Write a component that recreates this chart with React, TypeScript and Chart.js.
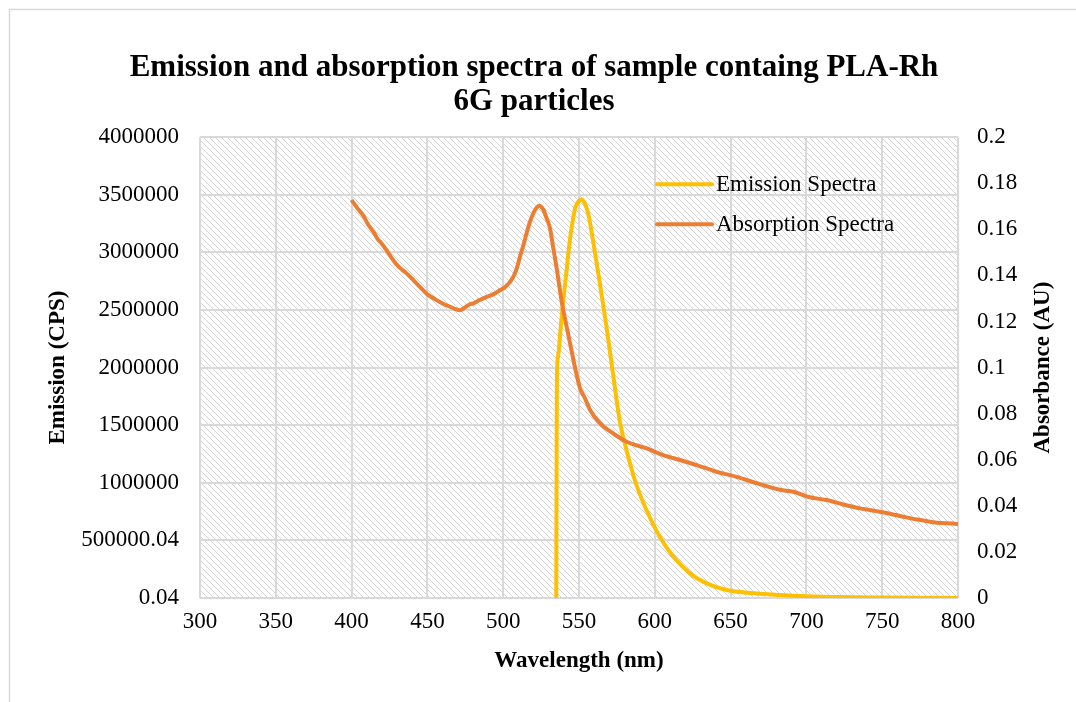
import React, { useEffect, useRef } from "react";
import { Chart, registerables } from "chart.js";

Chart.register(...registerables);

const chartTitle = ["Emission and absorption spectra of sample containg PLA-Rh", "6G particles"];
const xTitle = "Wavelength (nm)";
const leftTitle = "Emission (CPS)";
const rightTitle = "Absorbance (AU)";

const xTickValues = [300, 350, 400, 450, 500, 550, 600, 650, 700, 750, 800];
const leftTickValues = [0.04, 500000.04, 1000000.04, 1500000.04, 2000000.04, 2500000.04, 3000000.04, 3500000.04, 4000000.04];
const leftTickLabels = ["0.04", "500000.04", "1000000", "1500000", "2000000", "2500000", "3000000", "3500000", "4000000"];
const rightTickValues = [0, 0.02, 0.04, 0.06, 0.08, 0.1, 0.12, 0.14, 0.16, 0.18, 0.2];
const rightTickLabels = ["0", "0.02", "0.04", "0.06", "0.08", "0.1", "0.12", "0.14", "0.16", "0.18", "0.2"];

const emissionLabel = "Emission Spectra";
const emissionWavelengths = [
  535.0, 535.4, 536.2, 537.5, 539.0, 540.8, 542.5, 544.1, 545.8, 547.4, 549.5, 551.8, 554.0, 556.2,
  559.4, 563.9, 568.3, 572.6, 577.0, 581.4, 586.9, 594.6, 603.4, 612.2, 623.2, 634.2, 647.4, 665.0,
  682.6, 700.0, 720.0, 750.0, 780.0, 800.0,
];
const emissionValues = [
  0, 1900000, 2100000, 2280000, 2500000, 2720000, 2930000, 3120000, 3270000, 3380000, 3440000, 3460000, 3420000, 3330000,
  3090000, 2720000, 2340000, 1930000, 1530000, 1280000, 1020000, 760000, 530000, 360000, 214000, 127000, 69000, 41000,
  26000, 15000, 8000, 4000, 2000, 1000,
];

const absorptionLabel = "Absorption Spectra";
const absorptionWavelengths = [
  400, 404, 407.7, 411, 414.3, 417, 419.8, 423, 427.5, 431, 436.3, 440, 445.1, 450, 456.1, 460, 464.9, 468,
  471.5, 475, 478, 480.3, 484, 489.1, 494, 497.9, 501, 504.5, 507, 508.9, 511, 513.3, 515.5, 517.7, 520, 522,
  523.8, 525, 526.5, 528.7, 530.9, 533, 535.3, 538.6, 543, 548.5, 550.7, 554, 557.3, 563.9, 572.6, 581.5,
  594.7, 605.6, 616.6, 627.6, 640.8, 654, 667.2, 682.6, 691.4, 702.4, 713.4, 724.3, 735.4, 748.5, 761.7,
  772.8, 786, 799.2, 800,
];
const absorptionValues = [
  0.1727, 0.169, 0.166, 0.162, 0.159, 0.156, 0.1539, 0.151, 0.1466, 0.1438, 0.1409, 0.1385, 0.135, 0.1318, 0.1293, 0.1278, 0.1264, 0.1255,
  0.1249, 0.1262, 0.1275, 0.1279, 0.1292, 0.1307, 0.132, 0.1336, 0.1348, 0.1372, 0.1398, 0.143, 0.148, 0.1531, 0.1585, 0.1633, 0.1672, 0.1694,
  0.1702, 0.1698, 0.1685, 0.1647, 0.1604, 0.152, 0.143, 0.1286, 0.1141, 0.0967, 0.091, 0.0866, 0.0816, 0.0758, 0.0714, 0.0678,
  0.0649, 0.062, 0.0599, 0.0577, 0.0548, 0.0526, 0.0498, 0.047, 0.0461, 0.0437, 0.0425, 0.0406, 0.0389, 0.0374, 0.0356,
  0.0341, 0.0327, 0.0321, 0.032,
];

const FONT = "'Liberation Serif', 'Times New Roman', serif";
const GRID = "#d9d9d9";

const backgroundPlugin = {
  id: "excelBackground",
  beforeDraw(chart: any) {
    const { ctx, chartArea: a, width, height } = chart;
    ctx.save();
    ctx.fillStyle = "#ffffff";
    ctx.fillRect(0, 0, width, height);
    ctx.strokeStyle = GRID;
    ctx.lineWidth = 1.5;
    ctx.strokeRect(9.5, 9.5, width + 40, height + 40);
    const n = 6;
    const tile = document.createElement("canvas");
    tile.width = n;
    tile.height = n;
    const tc = tile.getContext("2d")!;
    tc.fillStyle = "#ffffff";
    tc.fillRect(0, 0, n, n);
    tc.fillStyle = "#d4d4d4";
    for (let y = 0; y < n; y++) {
      for (let x = 0; x < n; x++) {
        const d = (((x - y) % n) + n) % n;
        if ((d === 0 || d === 1) && (x + y) % 2 === 0) tc.fillRect(x, y, 1, 1);
      }
    }
    const pat = ctx.createPattern(tile, "repeat");
    if (pat) {
      ctx.fillStyle = pat;
      ctx.fillRect(a.left, a.top, a.right - a.left, a.bottom - a.top);
    }
    ctx.restore();
  },
};

const overlayPlugin = {
  id: "excelOverlay",
  afterDraw(chart: any) {
    const { ctx, chartArea: a } = chart;
    ctx.save();
    ctx.fillStyle = "#000";
    ctx.font = `bold 23px ${FONT}`;
    ctx.textAlign = "center";
    ctx.textBaseline = "middle";
    ctx.translate(a.right + 85, (a.top + a.bottom) / 2);
    ctx.rotate(-Math.PI / 2);
    ctx.fillText(rightTitle, 0, 0);
    ctx.restore();

    ctx.save();
    ctx.font = `23px ${FONT}`;
    ctx.textAlign = "left";
    ctx.textBaseline = "middle";
    const lx = a.left + 457;
    const ly = a.top + 47;
    chart.data.datasets.forEach((ds: any, i: number) => {
      const y = ly + i * 40;
      ctx.strokeStyle = ds.borderColor;
      ctx.lineWidth = 4;
      ctx.lineCap = "round";
      ctx.beginPath();
      ctx.moveTo(lx, y);
      ctx.lineTo(lx + 55, y);
      ctx.stroke();
      ctx.fillStyle = "#000";
      ctx.fillText(ds.label, lx + 59, y + 1);
    });
    ctx.restore();
  },
};

export default function App() {
  const canvasRef = useRef<HTMLCanvasElement | null>(null);

  useEffect(() => {
    if (!canvasRef.current) return;
    const chart = new Chart(canvasRef.current, {
      type: "line",
      data: {
        datasets: [
          {
            label: emissionLabel,
            data: emissionWavelengths.map((x, i) => ({ x, y: emissionValues[i] })),
            borderColor: "#FFC000",
            backgroundColor: "#FFC000",
            borderWidth: 4,
            pointRadius: 0,
            cubicInterpolationMode: "monotone",
            yAxisID: "y",
            order: 1,
          },
          {
            label: absorptionLabel,
            data: absorptionWavelengths.map((x, i) => ({ x, y: absorptionValues[i] })),
            borderColor: "#ED7D31",
            backgroundColor: "#ED7D31",
            borderWidth: 4,
            pointRadius: 0,
            cubicInterpolationMode: "monotone",
            yAxisID: "y1",
            order: 0,
          },
        ],
      },
      options: {
        animation: false,
        responsive: false,
        devicePixelRatio: 1,
        layout: { padding: { left: 10, right: 18, top: 10, bottom: 0 } },
        plugins: {
          legend: { display: false },
          tooltip: { enabled: false },
          title: {
            display: true,
            text: chartTitle,
            color: "#000",
            font: { family: FONT, size: 31, weight: "bold", lineHeight: 1.1 },
            padding: { top: 41, bottom: 18 },
          },
        },
        scales: {
          x: {
            type: "linear",
            position: "bottom",
            min: 300,
            max: 800,
            afterBuildTicks: (s: any) => {
              s.ticks = xTickValues.map((v) => ({ value: v }));
            },
            afterFit: (s: any) => {
              s.height = 104;
            },
            grid: { color: GRID, lineWidth: 2, drawTicks: false },
            border: { display: false },
            ticks: {
              color: "#000",
              font: { family: FONT, size: 23 },
              padding: 10,
              maxRotation: 0,
              callback: (v: any) => String(v),
            },
            title: {
              display: true,
              text: xTitle,
              color: "#000",
              font: { family: FONT, size: 23, weight: "bold", lineHeight: 1.2 },
              padding: { top: 0, bottom: 27 },
            },
          },
          y: {
            type: "linear",
            position: "left",
            min: leftTickValues[0],
            max: leftTickValues[leftTickValues.length - 1],
            afterBuildTicks: (s: any) => {
              s.ticks = leftTickValues.map((v) => ({ value: v }));
            },
            afterFit: (s: any) => {
              s.width = 190;
            },
            grid: { color: GRID, lineWidth: 2, drawTicks: false },
            border: { display: false },
            ticks: {
              color: "#000",
              font: { family: FONT, size: 23 },
              padding: 21,
              callback: (_v: any, i: number) => leftTickLabels[i],
            },
            title: {
              display: true,
              text: leftTitle,
              color: "#000",
              font: { family: FONT, size: 23, weight: "bold", lineHeight: 1.2 },
              padding: { top: 34, bottom: 0 },
            },
          },
          y1: {
            type: "linear",
            position: "right",
            min: rightTickValues[0],
            max: rightTickValues[rightTickValues.length - 1],
            afterBuildTicks: (s: any) => {
              s.ticks = rightTickValues.map((v) => ({ value: v }));
            },
            afterFit: (s: any) => {
              s.width = 100;
            },
            grid: { display: false, drawTicks: false },
            border: { display: false },
            ticks: {
              color: "#000",
              font: { family: FONT, size: 23 },
              padding: 19,
              callback: (_v: any, i: number) => rightTickLabels[i],
            },
          },
        },
      },
      plugins: [backgroundPlugin, overlayPlugin],
    } as any);
    return () => chart.destroy();
  }, []);

  return (
    <div style={{ position: "absolute", left: 0, top: 0, width: 1076, height: 702, background: "#fff" }}>
      <canvas ref={canvasRef} width={1076} height={702} style={{ display: "block", width: 1076, height: 702 }} />
    </div>
  );
}
